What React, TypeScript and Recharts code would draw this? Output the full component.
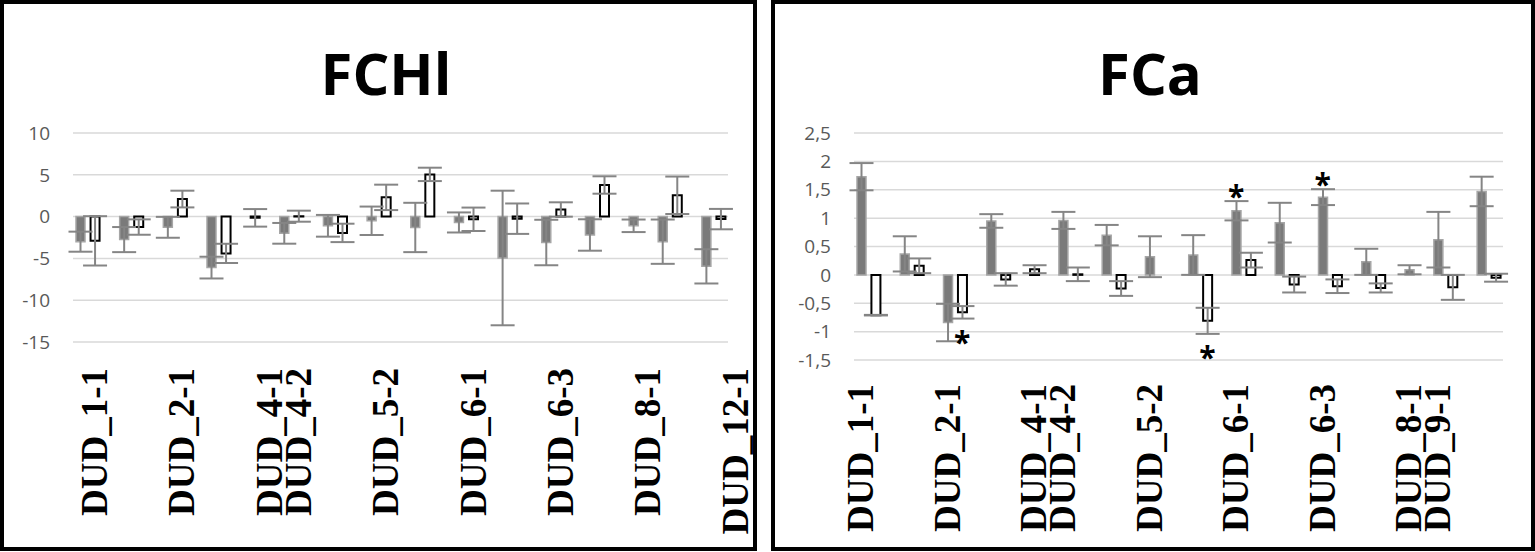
import React from 'react';
import { ComposedChart, Bar, Cell, ErrorBar, XAxis, YAxis, CartesianGrid, Scatter } from 'recharts';

// 45 category slots (pairs of bars with an empty slot between groups)
const slots = [
  's00', 's01', 's02', 's03', 's04', 's05', 's06', 's07', 's08', 's09',
  's10', 's11', 's12', 's13', 's14', 's15', 's16', 's17', 's18', 's19',
  's20', 's21', 's22', 's23', 's24', 's25', 's26', 's27', 's28', 's29',
  's30', 's31', 's32', 's33', 's34', 's35', 's36', 's37', 's38', 's39',
  's40', 's41', 's42', 's43', 's44',
];

// 'g' = grey filled bar, 'w' = white bar with black outline
const slotKinds = [
  'g', 'w', null, 'g', 'w', null, 'g', 'w', null, 'g',
  'w', null, 'w', null, 'g', 'w', null, 'g', 'w', null,
  'g', 'w', null, 'g', 'w', null, 'g', 'w', null, 'g',
  'w', null, 'g', 'w', null, 'g', 'w', null, 'g', null,
  'g', 'w', null, 'g', 'w',
];

// FCHl
const fchlValues = [
  -3.0, -2.9, null, -2.75, -1.25, null, -1.28, 2.1, null, -6.1,
  -4.4, null, -0.15, null, -2.0, 0.05, null, -1.1, -1.95, null,
  -0.5, 2.3, null, -1.3, 5.05, null, -0.7, -0.32, null, -4.95,
  -0.25, null, -3.1, 0.85, null, -2.2, 3.78, null, -1.1, null,
  -3.0, 2.55, null, -5.95, -0.3,
];
const fchlErrors = [
  1.2, 2.95, null, 1.5, 0.92, null, 1.25, 1.0, null, 1.3,
  1.15, null, 1.05, null, 1.24, 0.66, null, 1.3, 1.1, null,
  1.7, 1.52, null, 2.95, 0.8, null, 1.2, 1.4, null, 8.05,
  1.82, null, 2.72, 0.86, null, 1.88, 1.04, null, 0.75, null,
  2.65, 2.24, null, 2.05, 1.22,
];
const fchlTicks = [-15, -10, -5, 0, 5, 10];
const fchlTickSlots = ['s00', 's06', 's12', 's14', 's20', 's26', 's32', 's38', 's44'];
const fchlTickTexts = ['DUD_1-1', 'DUD_2-1', 'DUD_4-1', 'DUD_4-2', 'DUD_5-2', 'DUD_6-1', 'DUD_6-3', 'DUD_8-1', 'DUD_12-1'];

// FCa
const fcaValues = [
  1.73, -0.71, null, 0.37, 0.16, null, -0.84, -0.66, null, 0.95,
  -0.08, null, 0.1, null, 0.96, 0.01, null, 0.7, -0.24, null,
  0.32, 0.0, null, 0.35, -0.81, null, 1.13, 0.26, null, 0.92,
  -0.17, null, 1.37, -0.2, null, 0.23, -0.23, null, 0.09, null,
  0.62, -0.22, null, 1.47, -0.05,
];
const fcaErrors = [
  0.24, 0.005, null, 0.31, 0.13, null, 0.33, 0.11, null, 0.12,
  0.11, null, 0.07, null, 0.15, 0.12, null, 0.18, 0.13, null,
  0.36, 0.15, null, 0.35, 0.23, null, 0.17, 0.13, null, 0.35,
  0.14, null, 0.14, 0.12, null, 0.23, 0.08, null, 0.08, null,
  0.49, 0.22, null, 0.26, 0.07,
];
// significance asterisks: 'up' above the error bar, 'down' below it
const fcaSig = [
  null, null, null, null, null, null, null, 'down', null, null,
  null, null, null, null, null, null, null, null, null, null,
  null, null, null, null, 'down', null, 'up', null, null, null,
  null, null, 'up', null, null, null, null, null, null, null,
  null, null, null, null, null,
];
const fcaTicks = [-1.5, -1, -0.5, 0, 0.5, 1, 1.5, 2, 2.5];
const fcaTickSlots = ['s00', 's06', 's12', 's14', 's20', 's26', 's32', 's38', 's40'];
const fcaTickTexts = ['DUD_1-1', 'DUD_2-1', 'DUD_4-1', 'DUD_4-2', 'DUD_5-2', 'DUD_6-1', 'DUD_6-3', 'DUD_8-1', 'DUD_9-1'];

const GREY_FILL = '#7a7a7a';
const GREY_STROKE = '#a6a6a6';
const ERR_COLOR = '#858585';
const GRID = '#d9d9d9';
const AXIS_TEXT = '#595959';
const SANS = '"Open Sans", "Liberation Sans", Arial, sans-serif';
const SERIF = '"Liberation Serif", "Times New Roman", serif';

function buildData(values: (number | null)[], errors: (number | null)[], sig?: (string | null)[]) {
  return slots.map((s, i) => {
    const v = values[i];
    const e = errors[i];
    const sg = sig ? sig[i] : null;
    let star: number | null = null;
    if (sg && v != null && e != null) star = sg === 'up' ? v + e : v - e;
    return { slot: s, v, e, sig: sg, star };
  });
}

function makeXTick(tickSlots: string[], tickTexts: string[], shift: number) {
  return function XTick(props: any) {
    const { x, y, payload } = props;
    const idx = tickSlots.indexOf(payload.value);
    if (idx < 0) return null;
    return (
      <text
        transform={`translate(${x + shift},${y}) rotate(-90)`}
        textAnchor="end"
        dy="0.33em"
        fontFamily={SERIF}
        fontWeight="bold"
        fontSize={37}
        fill="#000"
      >
        {tickTexts[idx]}
      </text>
    );
  };
}

const StarShape = (props: any) => {
  const { cx, cy, payload } = props;
  if (!payload || !payload.sig || cx == null || cy == null) return null;
  const dy = payload.sig === 'up' ? 6 : 34;
  return (
    <text x={cx} y={cy + dy} textAnchor="middle" fontFamily={SANS} fontWeight="bold" fontSize={30} fill="#000">
      *
    </text>
  );
};

const commaFmt = (v: number) => String(v).replace('.', ',');

type PanelProps = {
  left: number;
  width: number;
  data: any[];
  ticks: number[];
  domain: [number, number];
  margin: { top: number; right: number; bottom: number; left: number };
  yWidth: number;
  xHeight: number;
  xTickMargin: number;
  tickSlots: string[];
  tickTexts: string[];
  tickShift: number;
  fmt?: (v: number) => string;
  stars?: boolean;
};

function Panel(p: PanelProps) {
  return (
    <div style={{ position: 'absolute', left: p.left, top: 0 }}>
      <ComposedChart width={p.width} height={551} data={p.data} margin={p.margin}>
        <CartesianGrid vertical={false} stroke={GRID} strokeWidth={1.5} />
        <XAxis
          dataKey="slot"
          axisLine={false}
          tickLine={false}
          tickSize={0}
          tickMargin={p.xTickMargin}
          height={p.xHeight}
          interval={0}
          ticks={p.tickSlots}
          tick={makeXTick(p.tickSlots, p.tickTexts, p.tickShift)}
        />
        <YAxis
          domain={p.domain}
          ticks={p.ticks}
          allowDataOverflow
          axisLine={false}
          tickLine={false}
          tickSize={0}
          tickMargin={23}
          width={p.yWidth}
          tickFormatter={p.fmt}
          tick={{ fill: AXIS_TEXT, fontSize: 19, fontFamily: SANS }}
        />
        <Bar dataKey="v" barSize={9} isAnimationActive={false}>
          {p.data.map((d, i) => (
            <Cell
              key={d.slot}
              fill={slotKinds[i] === 'w' ? '#ffffff' : GREY_FILL}
              stroke={slotKinds[i] === 'w' ? '#000000' : GREY_STROKE}
              strokeWidth={slotKinds[i] === 'w' ? 2 : 1.5}
            />
          ))}
          <ErrorBar dataKey="e" width={12} stroke={ERR_COLOR} strokeWidth={2} direction="y" />
        </Bar>
        {p.stars ? <Scatter dataKey="star" shape={StarShape} isAnimationActive={false} /> : null}
      </ComposedChart>
    </div>
  );
}

export default function App() {
  const fchlData = buildData(fchlValues, fchlErrors);
  const fcaData = buildData(fcaValues, fcaErrors, fcaSig);
  const box: React.CSSProperties = {
    position: 'absolute',
    top: 0,
    height: 551,
    border: '4px solid #000',
    boxSizing: 'border-box',
    background: '#fff',
  };
  return (
    <div style={{ position: 'absolute', left: 0, top: 0, width: 1535, height: 552, background: '#fff', overflow: 'hidden' }}>
      <div style={{ ...box, left: 0, width: 757 }} />
      <div style={{ ...box, left: 771, width: 764 }} />
      <Panel
        left={0}
        width={757}
        data={fchlData}
        ticks={fchlTicks}
        domain={[-15, 10]}
        margin={{ top: 133, right: 29, bottom: 9, left: 13 }}
        yWidth={60}
        xHeight={200}
        xTickMargin={26}
        tickSlots={fchlTickSlots}
        tickTexts={fchlTickTexts}
        tickShift={14.56}
      />
      <Panel
        left={771}
        width={764}
        data={fcaData}
        ticks={fcaTicks}
        domain={[-1.5, 2.5]}
        margin={{ top: 133, right: 32, bottom: 10, left: 23 }}
        yWidth={60}
        xHeight={181}
        xTickMargin={24}
        tickSlots={fcaTickSlots}
        tickTexts={fcaTickTexts}
        tickShift={0}
        fmt={commaFmt}
        stars
      />
      <svg width={1535} height={552} style={{ position: 'absolute', left: 0, top: 0, pointerEvents: 'none' }}>
        <text x={386} y={95} textAnchor="middle" fontFamily={SANS} fontWeight="bold" fontSize={58} fill="#000">
          FCHl
        </text>
        <text x={1150} y={95} textAnchor="middle" fontFamily={SANS} fontWeight="bold" fontSize={58} fill="#000">
          FCa
        </text>
      </svg>
    </div>
  );
}
